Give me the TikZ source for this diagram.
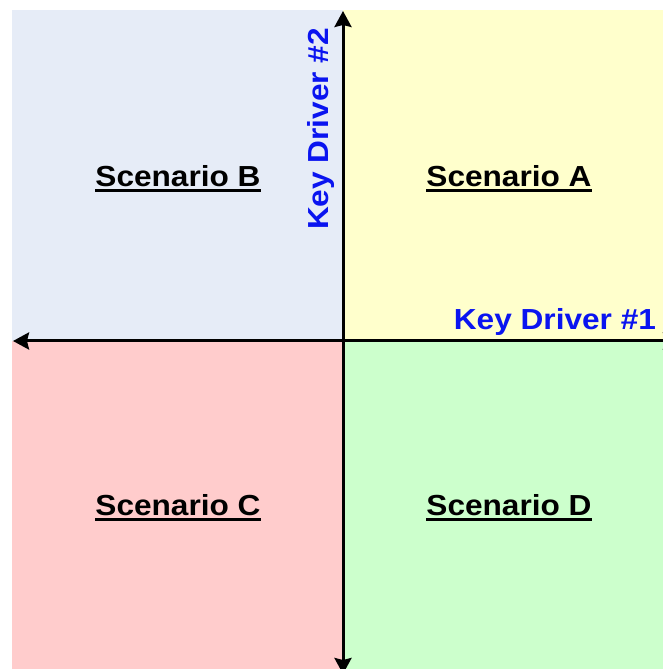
\documentclass[tikz,border=0pt]{standalone}
\usepackage{fontspec}
\setmainfont{Liberation Sans}[FakeStretch=1.09]
\usetikzlibrary{arrows.meta}
\definecolor{ScenA}{HTML}{FFFFCC}
\definecolor{ScenB}{HTML}{E6ECF7}
\definecolor{ScenC}{HTML}{FFCCCC}
\definecolor{ScenD}{HTML}{CCFFCC}
\definecolor{DriverInk}{HTML}{0A14F0}
\tikzset{
    scen/diagram/.style={
        x=1pt, y=1pt,
        font=\fontsize{29}{33}\selectfont\bfseries,
        line cap=butt
    },
    scen/axis/.style={
        draw=black, line width=3pt,
        {Stealth[length=16pt, width=17pt, inset=2pt]}-{Stealth[length=16pt, width=17pt, inset=2pt]}
    },
    scen/title/.style={inner sep=0pt, outer sep=0pt, anchor=base, text=black},
    scen/driver/.style={inner sep=0pt, outer sep=0pt, text=DriverInk},
    scen/underline/.style={draw=black, line width=3.3pt}
}
\begin{document}
\begin{tikzpicture}[scen/diagram]
    \useasboundingbox (0,0) rectangle (663,669);
    % quadrant backgrounds
    \fill[ScenB] (12,328) rectangle (343,659);
    \fill[ScenA] (343,328) rectangle (663,659);
    \fill[ScenC] (12,0) rectangle (343,328);
    \fill[ScenD] (343,0) rectangle (663,328);
    % axis ends
    \coordinate (west) at (13,328);
    \coordinate (east) at (679,328);
    \coordinate (south) at (343,-5);
    \coordinate (north) at (343,658);
    \draw[scen/axis] (west) -- (east);
    \draw[scen/axis] (south) -- (north);
    % scenario titles
    \node[scen/title] (scnB) at (178,482) {Scenario B};
    \node[scen/title] (scnA) at (509,482) {Scenario A};
    \node[scen/title] (scnC) at (178,153) {Scenario C};
    \node[scen/title] (scnD) at (509,153) {Scenario D};
    \foreach \s in {scnA,scnB,scnC,scnD}
        \draw[scen/underline] ([yshift=-3.7pt]\s.base west) -- ([yshift=-3.7pt]\s.base east);
    % driver labels
    \node[scen/driver, anchor=base east] (drvOne) at (656,339) {Key Driver \#1};
    \node[scen/driver, rotate=90, anchor=base west] (drvTwo) at (328,439) {Key Driver \#2};
\end{tikzpicture}
\end{document}
